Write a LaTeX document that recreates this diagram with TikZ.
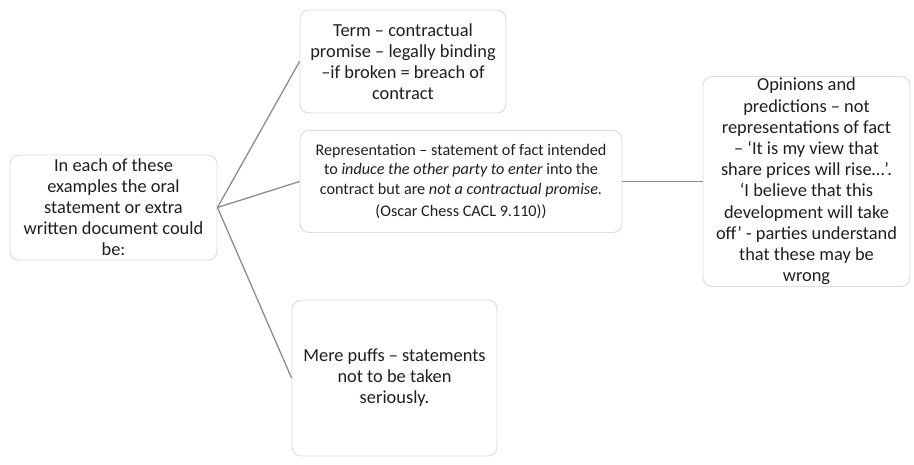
\documentclass[tikz,border=0pt]{standalone}
\usepackage{fontspec}
\setmainfont{Carlito}
\usetikzlibrary{positioning}
\definecolor{boxline}{HTML}{DCDCDC}
\definecolor{linkgray}{HTML}{8C8C8C}
\definecolor{textdark}{HTML}{1E1E28}
\tikzset{
    card/.style={rectangle, rounded corners=9pt, draw=boxline, line width=0.9pt, fill=white, align=center, text=textdark, inner sep=2pt, font=\fontsize{18.4}{21}\selectfont},
    smallcard/.style={card, font=\fontsize{16.2}{19.5}\selectfont},
    link/.style={draw=linkgray, line width=1.3pt}
}
\begin{document}
\begin{tikzpicture}[x=1pt, y=-1pt]
        \useasboundingbox (0,0) rectangle (914,464);

        \node (claim) [card, minimum width=207pt, minimum height=105pt] at (113.5,207.5) {In each of these\\ examples the oral\\ statement or extra\\ written document could\\ be:};
        \node (term) [card, minimum width=206pt, minimum height=103pt] at (403,61.5) {Term – contractual\\ promise – legally binding\\ –if broken = breach of\\ contract};
        \node (repr) [smallcard, minimum width=322pt, minimum height=102pt] at (461,181.5) {Representation – statement of fact intended\\ to \textit{induce the other party to enter} into the\\ contract but are \textit{not a contractual promise.}\\[3pt] (Oscar Chess CACL 9.110))};
        \node (puffs) [card, minimum width=205pt, minimum height=156pt] at (394.5,378) {Mere puffs – statements\\ not to be taken\\ seriously.};
        \node (opinion) [card, inner ysep=0pt, inner xsep=0pt, minimum width=207pt, minimum height=210pt, font=\fontsize{18.4}{21.2}\selectfont] at (806.5,181.5) {Opinions and\\ predictions – not\\ representations of fact\\ – ‘It is my view that\\ share prices will rise…’.\\ ‘I believe that this\\ development will take\\ off’ - parties understand\\ that these may be\\ wrong};

        \draw [link] (claim.east) -- (term.west);
        \draw [link] (claim.east) -- (repr.west);
        \draw [link] (claim.east) -- (puffs.west);
        \draw [link] (repr.east) -- (opinion.west);
    \end{tikzpicture}
\end{document}
